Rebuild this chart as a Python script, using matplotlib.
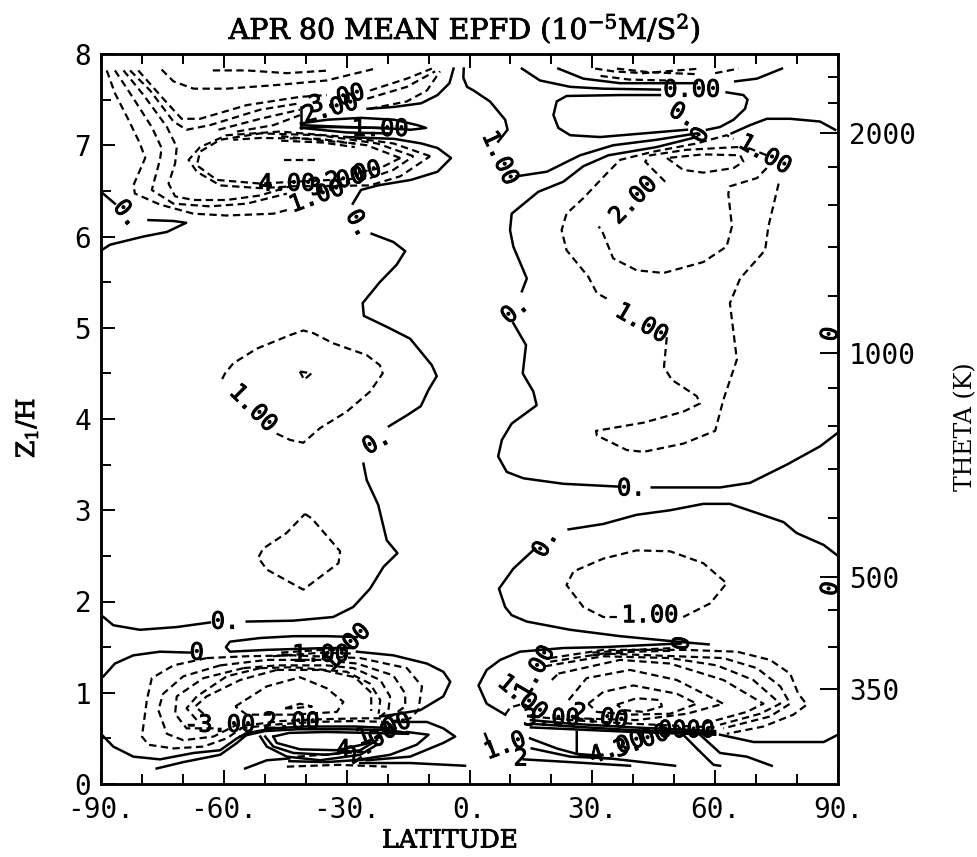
import matplotlib
matplotlib.use("Agg")
import matplotlib.pyplot as plt
import matplotlib.patheffects as pe

plt.rcParams["mathtext.fontset"] = "dejavuserif"
plt.rcParams["mathtext.default"] = "regular"

MONO = "DejaVu Sans Mono"
SERIF = "DejaVu Serif"

title_text = r"APR 80 MEAN EPFD (10$^{-5}$M/S$^{2}$)"
x_ticks = [-90, -60, -30, 0, 30, 60, 90]
x_labels = ["-90.", "-60.", "-30.", "0.", "30.", "60.", "90."]
x_minor = [v for v in range(-90, 91, 10) if v % 30]
y_ticks = [0, 1, 2, 3, 4, 5, 6, 7, 8]
y_minor = [0.5, 1.5, 2.5, 3.5, 4.5, 5.5, 6.5, 7.5]
theta_pos = [1.04, 2.27, 4.72, 7.13]
theta_labels = ["350", "500", "1000", "2000"]
theta_minor = [1.5, 1.91, 2.92, 3.45, 3.92, 4.34, 5.35, 5.88, 6.35, 6.76, 7.46, 7.75]

# ---- contours, as (latitude, Z1/H) ----
solid_top_left = [
    [(-3.9,7.84),(-4.9,7.68),(-7.8,7.55),(-11.8,7.46),(-18.4,7.42),(-24.9,7.40)],
    [(-41.2,7.24),(-34.7,7.28),(-26.5,7.30),(-18.4,7.28),(-12.7,7.22),(-10.6,7.19),(-14.3,7.17),(-22.4,7.19),(-34.7,7.20),(-41.2,7.19)],
    [(-41,7.19),(-30,7.14),(-20,7.13)],
    [(-41,7.22),(-30,7.2),(-22,7.19)],
    [(-41.2,7.42),(-41.2,7.19)],
    [(-30,7.09),(-18.4,7.07),(-11.8,7.02),(-7.8,6.97),(-4.5,6.86),(-7.8,6.71),(-14.3,6.62),(-22.4,6.56),(-26.5,6.51),(-28.5,6.36)],
    [(-90.2,5.84),(-87.8,5.91),(-79.6,6.0),(-73.9,6.05),(-69.2,6.15),(-72.3,6.17),(-78.4,6.18)],
    [(-90,6.49),(-86.6,6.36)],
]
solid_mid_left = [
    [(-23.9,6.03),(-18.6,5.94),(-15.7,5.84),(-17.8,5.69),(-21.9,5.50),(-26.1,5.27),(-25.8,5.13),(-20.2,5.01),(-14.5,4.88),(-9.2,4.59),(-8.0,4.47),(-10.0,4.32),(-11.9,4.14),(-15.3,4.04),(-19.7,3.92)],
    [(-25.9,3.51),(-25.1,3.33),(-22.3,3.06),(-20.2,2.67),(-17.6,2.53),(-21.0,2.38),(-24.3,2.14),(-28.4,1.94),(-33.3,1.83),(-43.0,1.79),(-54.4,1.78)],
    [(-63.4,1.77),(-71.5,1.72),(-80.5,1.69),(-87,1.74),(-89.4,1.83)],
]
solid_low_left = [
    [(-27.5,1.61),(-34.9,1.62),(-43,1.62),(-51.1,1.6),(-58.5,1.56),(-59.5,1.5),(-58.5,1.45),(-49.5,1.47),(-34.9,1.49),(-28.3,1.49)],
    [(-68.2,1.44),(-75.6,1.45),(-82.1,1.41),(-86.6,1.32),(-89.4,1.18)],
    [(-27.5,1.45),(-18.6,1.41),(-10.4,1.32),(-6.4,1.23),(-4.7,1.12),(-6.4,0.96),(-12,0.81),(-18.6,0.76),(-21.8,0.74)],
    [(-89.8,0.54),(-87,0.41),(-82.1,0.30),(-75.6,0.27),(-67.4,0.34),(-60.9,0.37),(-56.8,0.5),(-54,0.57)],
    [(-76.4,0.17),(-69.9,0.24),(-60.9,0.32),(-56.8,0.45),(-53.6,0.57)],
    [(-18.6,0.68),(-10.4,0.68),(-6.4,0.61),(-3.5,0.52),(-6.4,0.45),(-14.5,0.3),(-25.1,0.26)],
    [(-15.3,0.57),(-10,0.54),(-12.9,0.43),(-19.4,0.32),(-28,0.26)],
    [(-51.1,0.52),(-49.5,0.41),(-44.6,0.30),(-36.5,0.26),(-26.7,0.32),(-22.6,0.43)],
    [(-49.9,0.52),(-47.9,0.41),(-43,0.34),(-34.9,0.32),(-26.7,0.37),(-22.6,0.48)],
    [(-47.9,0.52),(-47.1,0.45),(-41.4,0.38),(-32.4,0.37),(-24.3,0.45)],
    [(-47.9,0.52),(-44,0.56),(-35,0.57),(-25,0.56),(-15,0.55)],
    [(-56,0.52),(-50,0.58),(-42,0.6),(-30,0.6),(-20,0.59),(-15,0.56)],
    [(-54,0.56),(-48,0.61),(-40,0.63),(-28,0.63),(-18,0.61)],
    [(-54.8,0.17),(-49.5,0.26),(-44,0.28)],
    [(-26.7,0.23),(-14.5,0.23),(-1.1,0.2)],
    [(-44,0.25),(-35,0.24),(-25,0.27)],
]
solid_top_right = [
    [(-1.4,7.84),(-1.5,7.74),(-0.6,7.64),(1,7.6),(5,7.48),(8.7,7.28),(9.3,7.17),(7.0,7.04)],
    [(11.5,6.66),(18.9,6.71),(27,6.89),(35.1,7.0),(45.7,7.06),(55.5,7.13)],
    [(12.8,5.4),(14,5.54),(10.7,5.89),(9.9,6.07),(10.3,6.25),(16.8,6.49),(22.9,6.6),(27.8,6.77),(33.9,6.89),(45.7,6.98),(55.5,7.09)],
    [(12.8,7.84),(17.2,7.71),(24.6,7.64),(32.7,7.62),(46.5,7.61)],
    [(21.7,7.84),(27.8,7.73),(36.8,7.68),(48.2,7.68),(55.5,7.68)],
    [(64.9,7.7),(70.2,7.73),(76.3,7.84)],
    [(46.5,7.55),(36.8,7.55),(23.7,7.54),(21.3,7.48),(20.5,7.33),(21.7,7.19),(24.6,7.11),(31.9,7.09),(42.5,7.13),(53.1,7.17)],
    [(62.8,7.58),(66.9,7.55),(67.9,7.5),(67.3,7.4),(64.5,7.28),(61.2,7.2),(58,7.17)],
    [(64,7.13),(68.5,7.22),(72.6,7.29),(78.3,7.29),(85.6,7.26),(89.3,7.17)],
]
solid_mid_right = [
    [(10.7,5.05),(13.8,4.81),(13,4.5),(15.6,4.3),(16.4,4.15),(10.3,3.95),(7.9,3.77),(7,3.59),(9.1,3.42),(13.2,3.35),(22.9,3.29),(36,3.26)],
    [(44.5,3.25),(61.2,3.25),(68.5,3.3),(77.5,3.5),(85.6,3.7),(89.7,3.84)],
    [(24.2,2.79),(32.7,2.85),(40.8,2.95),(49,3.0),(57.1,3.07),(63.6,3.07),(70.2,2.97),(76.7,2.87),(79.9,2.75),(86.5,2.62),(89.7,2.51)],
    [(16,2.58),(10.7,2.36),(7.2,2.14),(8.7,1.94),(10.3,1.85),(14,1.78),(24.6,1.69),(36.8,1.62),(50.6,1.56),(58.4,1.53)],
]
solid_low_right = [
    [(51.4,1.54),(32.7,1.5),(22.9,1.49),(12.3,1.45),(7.5,1.36),(4.2,1.25),(2.2,1.08),(4.2,0.88),(8.7,0.76)],
    [(61.2,0.54),(69.4,0.46),(86.5,0.46),(90,0.54)],
    [(52.2,0.54),(55.5,0.39),(59.6,0.21),(61.2,0.2)],
    [(56.3,0.54),(61.2,0.34),(67.7,0.3),(73.8,0.2)],
    [(3.8,0.55),(5,0.41)],
    [(13.2,0.27),(24.6,0.24),(39.2,0.2)],
    [(14.8,0.5),(21.3,0.39),(28.6,0.3),(34.3,0.28),(50.2,0.2)],
    [(15.2,0.39),(24.6,0.3),(34.3,0.28)],
    [(15,0.62),(25,0.6),(40,0.57),(60,0.54)],
    [(15,0.66),(25,0.63),(40,0.59),(60,0.56)],
    [(15,0.7),(25,0.66),(40,0.62),(60,0.58)],
    [(26.2,0.57),(26.2,0.33),(31.9,0.31)],
]
dashed_top_left = [
    [(-88.6,7.82),(-86.6,7.57),(-83.3,7.28),(-80.5,7.02),(-79.2,6.86),(-82.1,6.56),(-81.7,6.47),(-75.6,6.35),(-67.4,6.25),(-59.3,6.23),(-47.9,6.25),(-44.6,6.29)],
    [(-86.6,7.82),(-82.9,7.57),(-77.6,7.2),(-75.2,6.97),(-75.6,6.84),(-77.6,6.51),(-72.3,6.36),(-63.4,6.33),(-54.4,6.36),(-44.6,6.47)],
    [(-84.5,7.82),(-79.6,7.55),(-73.9,7.2),(-71.5,6.98),(-71.9,6.8),(-73.5,6.58),(-71.9,6.44),(-67.4,6.4),(-59.3,6.4),(-51.1,6.45),(-43.8,6.55)],
    [(-80.9,7.82),(-74.8,7.51),(-70.3,7.29),(-65.8,7.29),(-54.4,7.44),(-41.4,7.53),(-34.9,7.55)],
    [(-24.3,7.6),(-15.3,7.73),(-9.2,7.84)],
    [(-82.9,7.82),(-78.0,7.6),(-72.3,7.26),(-69.1,7.17),(-63.4,7.22),(-51.1,7.39),(-41.4,7.46)],
    [(-25,7.51),(-15.3,7.64),(-8.4,7.81)],
    [(-24.3,7.4),(-15.3,7.48),(-10.4,7.6),(-7.2,7.81)],
    [(-75.2,7.83),(-72.3,7.7),(-67.4,7.62),(-59.3,7.62),(-47.1,7.66),(-34.9,7.71),(-23.0,7.84)],
    [(-62.7,7.82),(-54.4,7.82),(-44.6,7.79),(-34.0,7.82)],
    [(-61.3,7.17),(-51.1,7.29),(-41.4,7.39)],
    [(-56.8,7.15),(-47.9,7.22),(-41.4,7.33)],
    [(-9.6,6.88),(-18.6,7.02),(-30,7.09),(-46.3,7.15),(-59.3,7.11),(-65.8,6.98),(-68.6,6.84),(-66.6,6.71),(-60.9,6.56),(-51.1,6.53),(-43,6.55),(-24.3,6.56),(-16.9,6.66),(-9.6,6.88)],
    [(-13.7,6.88),(-22.6,7.02),(-36.5,7.11),(-51.1,7.13),(-60.9,7.06),(-65.8,6.93),(-66.6,6.78),(-61.7,6.62),(-51.1,6.58),(-43,6.6),(-24.3,6.64),(-18.6,6.73),(-13.7,6.88)],
    [(-16.9,6.86),(-25.1,7.0),(-36.5,7.07),(-51.1,7.08),(-57.7,7.06)],
    [(-16.9,6.86),(-21.8,6.75),(-28.3,6.69)],
    [(-45.3,6.84),(-37.7,6.84)],
    [(-46,7.1),(-36,7.05),(-28,7.02)],
    [(-46,7.05),(-36,7.03),(-28,6.98)],
]
dashed_mid_left = [
    [(-47.1,3.84),(-43.8,3.77),(-40.6,3.74),(-36.5,3.9),(-30,4.08),(-24.3,4.3),(-21.2,4.5),(-21.9,4.59),(-25.1,4.7),(-33.3,4.83),(-38.1,4.94),(-40.6,4.97),(-43.8,4.92),(-52,4.77),(-57.7,4.61),(-59.7,4.5),(-60.5,4.43)],
    [(-40.2,2.96),(-38.5,2.91),(-31.6,2.55),(-32,2.42),(-40.6,2.13),(-49.5,2.35),(-51.6,2.48),(-50.4,2.58),(-44.7,2.75),(-40.2,2.96)],
    [(-41.4,4.52),(-38.6,4.5),(-40.4,4.43),(-41.4,4.52)],
]
dashed_low_left = [
    [(-64.2,1.38),(-72.3,1.3),(-77.6,1.16),(-78.8,0.92),(-80,0.52),(-78.4,0.43),(-72.3,0.39),(-65,0.41),(-59.3,0.5),(-54.4,0.65)],
    [(-64.2,1.38),(-54.4,1.4),(-43,1.41),(-26.7,1.38),(-15.3,1.27),(-11.6,1.07),(-12.5,0.81),(-14.5,0.72),(-20,0.68)],
    [(-60.9,1.3),(-69.9,1.18),(-74.8,0.99),(-76,0.81),(-73.9,0.55),(-69.9,0.48),(-62.5,0.52),(-56.8,0.65)],
    [(-60.9,1.3),(-49.5,1.36),(-36.5,1.36),(-27.5,1.32),(-18.6,1.19),(-15.7,0.99),(-15.7,0.85),(-19.8,0.72)],
    [(-55.2,1.27),(-65,1.16),(-71.5,0.96),(-71.9,0.77),(-69.1,0.61),(-62.5,0.61)],
    [(-55.2,1.27),(-47,1.3),(-34.9,1.3),(-28.3,1.27),(-21.8,1.14),(-19.4,0.96),(-19.8,0.81),(-21.8,0.74)],
    [(-51.1,1.27),(-59.3,1.18),(-66.6,0.96),(-69.1,0.83),(-66.2,0.68)],
    [(-51.1,1.27),(-43,1.28),(-30,1.23),(-24.3,1.1),(-21.8,0.92),(-22.2,0.77)],
    [(-47.1,1.25),(-56,1.14),(-64.2,0.96),(-67,0.85),(-64.2,0.74)],
    [(-47.1,1.25),(-36,1.25),(-28,1.17),(-24,1.0),(-24,0.8)],
    [(-57.2,0.85),(-49.5,1.07),(-41.4,1.17),(-34.9,1.05),(-30.8,0.9),(-32.4,0.79),(-43,0.76),(-54.4,0.76),(-57.2,0.85)],
    [(-45,0.83),(-41.4,0.88),(-38.5,0.85),(-43,0.83),(-45,0.83)],
    [(-56,0.61),(-48,0.65),(-38,0.68),(-28,0.69),(-20,0.68)],
    [(-55,0.64),(-46,0.69),(-36,0.71),(-26,0.72),(-20,0.72)],
    [(-44.6,0.19),(-32,0.21),(-20.2,0.19)],
    [(-42,0.3),(-33,0.33),(-24,0.36)],
    [(-46,1.44),(-36,1.47),(-29,1.47)],
    [(-48,1.4),(-36,1.44),(-29,1.43)],
]
dashed_top_right = [
    [(30.7,7.84),(35.1,7.81),(42.5,7.79),(56.3,7.84)],
    [(32,7.76),(39,7.72),(48,7.71)],
    [(36,7.84),(44,7.8),(55,7.78)],
    [(60,7.79),(65.7,7.84)],
    [(75.5,6.58),(73,6.11),(72.2,5.85),(66.1,5.54),(63.6,5.27),(65.3,4.65),(62,4.21),(60,3.87),(52.2,3.73),(42.5,3.64),(38.4,3.66),(31.1,3.82),(30.9,3.87),(42.5,3.96),(52.2,4.08),(56.3,4.17),(55.5,4.25),(49.4,4.43),(47.5,4.57),(48.2,4.9)],
    [(33.5,5.32),(31.1,5.38),(29,5.56),(23.7,5.85),(22.5,6.07),(23.7,6.25),(27.8,6.42),(33.5,6.69),(36.8,6.84),(44.9,6.93),(55.5,7.02),(62.8,7.11),(64.5,7.07)],
    [(68.1,6.97),(72.6,6.89)],
    [(72.6,6.75),(70.2,6.64),(63.6,6.55),(63.2,6.47),(64.1,6.11),(62.8,5.89),(57.1,5.72),(47.4,5.6),(40.8,5.63),(35.1,5.76),(32.3,6.07),(31.5,6.11)],
    [(47.8,6.6),(42.9,6.82),(44.1,6.89),(53,6.95),(65.3,6.98),(69.4,6.95)],
    [(48.2,6.86),(52.2,6.73),(57.1,6.7),(64.5,6.75),(66.9,6.82),(66.1,6.89),(57.1,6.9),(48.2,6.86)],
    [(36,1.83),(32.7,1.83),(27.8,1.94),(23.7,2.18),(25.4,2.33),(32.7,2.47),(40.8,2.56),(49,2.55),(57.1,2.42),(62.8,2.2),(58.8,1.98),(52.2,1.83)],
]
dashed_low_right = [
    [(19.7,1.38),(32.7,1.47),(52.2,1.47),(65.3,1.45),(73.4,1.36),(78.3,1.21),(80.3,0.99),(82.4,0.87),(79.1,0.76),(71.8,0.63),(62.8,0.55)],
    [(19.7,1.34),(32.7,1.43),(50.6,1.4),(62,1.38),(70.2,1.27),(75.9,1.07),(78.3,0.88),(73.4,0.74),(62,0.61)],
    [(18.4,1.29),(32.7,1.4),(49,1.38),(60.4,1.3),(69.3,1.14),(75.9,0.88),(71,0.77),(61.2,0.65)],
    [(21.7,1.21),(36.8,1.36),(49,1.32),(62,1.14),(71.8,0.88),(67.7,0.79),(57.1,0.66)],
    [(20.1,1.14),(21.7,1.21)],
    [(24.2,0.92),(28.6,1.16),(39.2,1.25),(50.6,1.14),(62,0.88),(53.1,0.77),(40.8,0.7),(26.2,0.72)],
    [(29,0.88),(32.7,1.01),(40,1.08),(50.6,0.99),(55.5,0.88),(49,0.77),(39.2,0.76),(31.1,0.79),(29,0.88)],
    [(36,0.87),(40.8,0.94),(46.5,0.92),(47,0.85),(42.5,0.79),(37.6,0.81),(36,0.87)],
    [(30,1.44),(40,1.47),(50,1.49)],
    [(30,1.41),(40,1.45),(50,1.46)],
    [(8.7,0.76),(10,0.84),(13.2,0.88),(16,0.8)],
    [(15,0.74),(25,0.7),(40,0.66),(60,0.62)],
]
line_labels = [
    ("3.00", -32.4, 7.51, 15), ("2.00", -34, 7.4, 15), ("1.00", -21.8, 7.18, 0),
    ("4.00", -44.6, 6.58, 0), ("3.00", -32.4, 6.6, 15), ("2.00", -28.3, 6.67, 15),
    ("1.00", -37.3, 6.44, 20), ("0.", -83.7, 6.25, -50), ("0.", -27.1, 6.14, -60),
    ("1.00", -52.8, 4.12, -45), ("0.", -22.7, 3.75, 30),
    ("0.", -59.7, 1.78, 0), ("0", -66.6, 1.44, 0), ("1.00", -30, 1.5, 45),
    ("-1.00", -38.1, 1.42, 0), ("-3.00", -61, 0.65, 0), ("2.00", -43.5, 0.68, 0),
    ("1.00", -21, 0.6, 20), ("4", -30.8, 0.38, 0), ("2.00", -24, 0.45, 35),
    ("1.00", 7.5, 6.86, -65), ("2.00", 40, 6.4, 45), ("1.00", 72.2, 6.9, -30),
    ("0.00", 54.3, 7.61, 0), ("0.", 52.2, 7.33, -30), ("0", 56.3, 7.11, 60),
    ("0.", 11.1, 5.19, 40), ("1.00", 42.1, 5.05, -30), ("0.", 39.5, 3.24, 0),
    ("0.", 18.5, 2.64, 60), ("1.00", 44.1, 1.85, 0), ("0", 51.8, 1.54, 80),
    ("1.00", 16, 1.23, 60), ("1.00", 13, 0.95, -40), ("1.0", 8.7, 0.42, 20), ("2", 12.5, 0.28, 0),
    ("2.00", 31.9, 0.74, -10), ("4.00", 36, 0.4, 20), ("3.00", 42, 0.47, 20),
    ("3.00", 20, 0.72, 0), ("0000", 53, 0.59, 0),
    ("0", 88.1, 4.93, 80), ("0", 88.1, 2.14, 80),
]

SOLID = [solid_top_left, solid_mid_left, solid_low_left, solid_top_right, solid_mid_right, solid_low_right]
DASHED = [dashed_top_left, dashed_mid_left, dashed_low_left, dashed_top_right, dashed_low_right]

fig = plt.figure(figsize=(9.78, 8.57), dpi=100)
ax = fig.add_axes([101/978, (857-784)/857, 737/978, 730/857])
ax.set_xlim(-90, 90)
ax.set_ylim(0, 8)

for group in SOLID:
    for line in group:
        ax.plot([p[0] for p in line], [p[1] for p in line], color="black", lw=1.8,
                solid_joinstyle="round", zorder=3)
for group in DASHED:
    for line in group:
        ax.plot([p[0] for p in line], [p[1] for p in line], color="black", lw=1.6,
                linestyle=(0, (3.3, 2.0)), zorder=3)

stroke = [pe.withStroke(linewidth=0.7, foreground="black")]
for text, lat, z, rot in line_labels:
    ax.text(lat, z, text, family=MONO, fontsize=17, rotation=rot, ha="center", va="center",
            rotation_mode="anchor", color="black", clip_on=True, zorder=4, path_effects=stroke)

for s in ax.spines.values():
    s.set_linewidth(1.8)

ax.set_xticks(x_ticks)
ax.set_xticklabels(x_labels, family=MONO, fontsize=20)
ax.set_xticks(x_minor, minor=True)
ax.set_yticks(y_ticks)
ax.set_yticklabels([str(v) for v in y_ticks], family=MONO, fontsize=20)
ax.set_yticks(y_minor, minor=True)
ax.tick_params(axis="both", which="major", direction="in", length=10, width=1.4, top=True, right=False, pad=7)
ax.tick_params(axis="x", which="major", pad=9)
ax.tick_params(axis="both", which="minor", direction="in", length=7, width=1.4, top=True, right=False)

rax = ax.twinx()
rax.set_ylim(0, 8)
rax.set_yticks(theta_pos)
rax.set_yticklabels(theta_labels, family=MONO, fontsize=20)
rax.set_yticks(theta_minor, minor=True)
rax.tick_params(axis="y", which="major", direction="in", length=13, width=1.4, pad=8)
rax.tick_params(axis="y", which="minor", direction="in", length=7, width=1.4)
for s in rax.spines.values():
    s.set_linewidth(1.8)

thin = [pe.withStroke(linewidth=0.6, foreground="black")]
fig.text(465/978, 1-29/857, title_text, family=SERIF, fontsize=20.5, ha="center", va="center", path_effects=thin)
fig.text(450/978, 1-841/857, "LATITUDE", family=SERIF, fontsize=18, ha="center", va="center", path_effects=thin)
fig.text(27/978, 1-428/857, r"Z$_{1}$/H", family=SERIF, fontsize=18, rotation=90, ha="center", va="center", path_effects=thin)
fig.text(966/978, 1-427/857, "THETA (K)", family=SERIF, fontsize=17, rotation=90, ha="center", va="center")

fig.savefig("out.png", dpi=100)
